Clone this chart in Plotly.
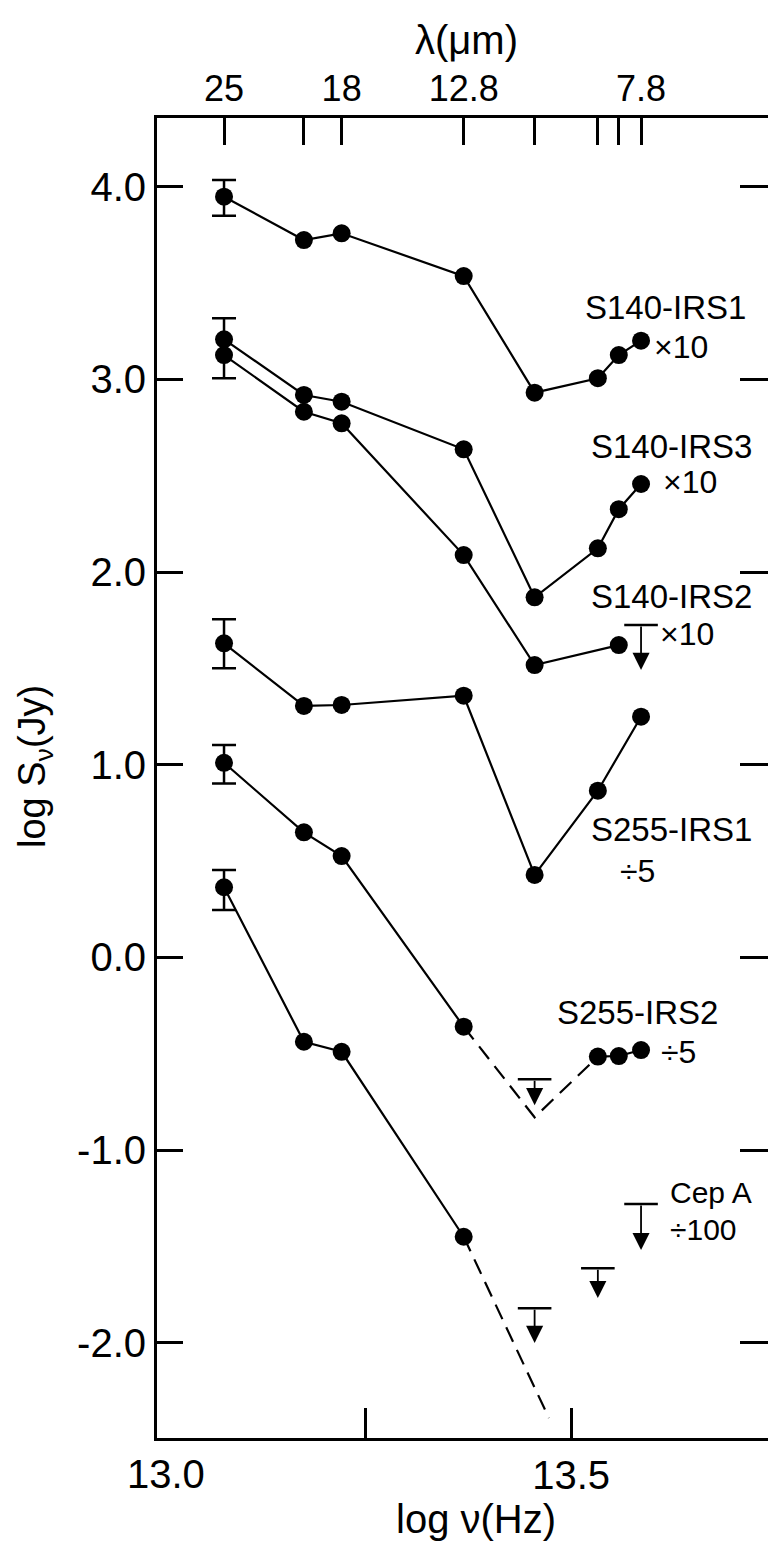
import numpy as np
import plotly.graph_objects as go

# ---------------- data ----------------
C_UM_HZ = 2.998e14  # speed of light in micron*Hz
lam_um = [25, 20, 18, 12.8, 10.5, 8.8, 8.3, 7.8]
top_tick_text = ["25", " ", "18", "12.8", " ", " ", " ", "7.8"]

# log S_nu (Jy) at each filter (None = no detection)
s140_irs1 = [3.948, 3.723, 3.758, 3.536, 2.931, 3.006, 3.126, 3.201]
s140_irs3 = [3.208, 2.919, 2.884, 2.637, 1.869, 2.123, 2.326, 2.457]
s140_irs2 = [3.126, 2.832, 2.772, 2.088, 1.517, None, 1.621, None]
s255_irs1 = [1.630, 1.305, 1.310, 1.358, 0.428, 0.865, None, 1.249]
s255_irs2 = [1.010, 0.649, 0.526, -0.360, None, -0.515, -0.512, -0.481]
cep_a = [0.364, -0.438, -0.490, -1.450, None, None, None, None]

# error bars at 25 um
err_lo = [3.849, 3.006, 1.500, 0.903, 0.246]
err_hi = [4.035, 3.317, 1.755, 1.102, 0.454]

# upper limits
ul_lam = [7.8, 10.5, 10.5, 8.8, 7.8]
ul_cap = [1.725, -0.633, -1.821, -1.614, -1.280]
ul_tip = [1.492, -0.767, -2.001, -1.768, -1.519]

# dashed extrapolations
s255_irs2_dash_lam = [12.8, 10.5, 8.8]
s255_irs2_dash_val = [-0.360, -0.830, -0.515]
cep_a_dash_lognu_end = 13.473   # starts at the 12.8 um point
cep_a_dash_val = [-1.450, -2.391]

y_ticks = [-2, -1, 0, 1, 2, 3, 4]
y_tick_text = ["-2.0", "-1.0", "0.0", "1.0", "2.0", "3.0", "4.0"]
x_ticks = [13.25, 13.5]
x_tick_text = [" ", "13.5"]
x_corner_label = "13.0"

# ---------------- figure ----------------
def lognu(l):
    return float(np.log10(C_UM_HZ / l))

xs = [lognu(l) for l in lam_um]

W, H = 768, 1545
L, R, T, B = 157, 768, 118, 1438
X0 = 12.9976
X1 = X0 + (R - L) / 824.4
Y0, Y1 = -2.4946, 4.3566

def px(x):
    return (x - L) / (R - L)

def py(y):
    return (B - y) / (B - T)

FONT = "Liberation Sans"
BLK = "black"
LW = 2.2

fig = go.Figure()

def add_series(vals, connect):
    fig.add_trace(go.Scatter(
        x=xs, y=vals, mode="lines+markers", connectgaps=connect,
        line=dict(color=BLK, width=LW),
        marker=dict(color=BLK, size=18, symbol="circle"),
        showlegend=False, hoverinfo="skip"))

for vals, con in [(s140_irs1, True), (s140_irs3, True), (s140_irs2, True),
                  (s255_irs1, True), (s255_irs2, False), (cep_a, True)]:
    add_series(vals, con)

# dashed lines
fig.add_trace(go.Scatter(
    x=[lognu(l) for l in s255_irs2_dash_lam], y=s255_irs2_dash_val, mode="lines",
    line=dict(color=BLK, width=LW, dash="16px,9px"), showlegend=False, hoverinfo="skip"))
fig.add_trace(go.Scatter(
    x=[lognu(12.8), cep_a_dash_lognu_end], y=cep_a_dash_val, mode="lines",
    line=dict(color=BLK, width=LW, dash="16px,9px"), showlegend=False, hoverinfo="skip"))

# error bars
mid = [(a + b) / 2 for a, b in zip(err_lo, err_hi)]
half = [(b - a) / 2 for a, b in zip(err_lo, err_hi)]
fig.add_trace(go.Scatter(
    x=[lognu(25)] * len(mid), y=mid, mode="markers",
    marker=dict(size=1, color="rgba(0,0,0,0)"),
    error_y=dict(type="data", array=half, visible=True, color=BLK, thickness=2.5, width=12),
    showlegend=False, hoverinfo="skip"))

# upper limit caps
fig.add_trace(go.Scatter(
    x=[lognu(l) for l in ul_lam], y=ul_cap, mode="markers",
    marker=dict(symbol="line-ew", size=24, color=BLK, line=dict(color=BLK, width=2.5)),
    showlegend=False, hoverinfo="skip"))

annotations = []
for l, c, t in zip(ul_lam, ul_cap, ul_tip):
    annotations.append(dict(
        x=lognu(l), y=t, ax=lognu(l), ay=c, xref="x", yref="y", axref="x", ayref="y",
        text="", showarrow=True, arrowhead=2, arrowsize=1.9, arrowwidth=1.8, arrowcolor=BLK))

# invisible trace for the secondary axes
fig.add_trace(go.Scatter(x=[X0], y=[Y0], xaxis="x2", yaxis="y2", mode="markers",
                         marker=dict(size=1, color="rgba(0,0,0,0)"),
                         showlegend=False, hoverinfo="skip"))

def txt(s, x, y, size, angle=0):
    annotations.append(dict(text=s, x=px(x), y=py(y), xref="paper", yref="paper",
                            showarrow=False, xanchor="center", yanchor="middle",
                            textangle=angle, font=dict(family=FONT, size=size, color=BLK)))

txt("λ(μm)", 466, 40, 40)
txt("S140-IRS1", 665, 307, 33)
txt("×10", 681, 347, 32)
txt("S140-IRS3", 671, 446, 33)
txt("×10", 690, 482, 32)
txt("S140-IRS2", 671, 596, 33)
txt("×10", 687, 634, 32)
txt("S255-IRS1", 671, 830, 33)
txt("÷5", 637, 871, 32)
txt("S255-IRS2", 637, 1012, 33)
txt("÷5", 678, 1052, 32)
txt("Cep A", 711, 1192, 30)
txt("÷100", 703, 1229, 30)
txt(x_corner_label, 166, 1474, 40)
txt("log ν(Hz)", 476, 1519, 40)
txt("log S<sub>ν</sub>(Jy)", 35, 767, 38, -90)

axis_common = dict(showgrid=False, zeroline=False, color=BLK, ticks="inside")

fig.update_layout(
    width=W, height=H, margin=dict(l=L, r=W - R, t=T, b=H - B),
    paper_bgcolor="white", plot_bgcolor="white",
    font=dict(family=FONT, color=BLK),
    xaxis=dict(range=[X0, X1], showline=True, linewidth=3, linecolor=BLK,
               tickvals=x_ticks, ticktext=x_tick_text, ticklen=30, tickwidth=2.5,
               tickangle=0,
               tickcolor=BLK, tickfont=dict(size=40, family=FONT), **axis_common),
    xaxis2=dict(range=[X0, X1], overlaying="x", side="top", anchor="y",
                showline=True, linewidth=3, linecolor=BLK, tickangle=0,
                tickvals=xs, ticktext=top_tick_text, ticklen=27, tickwidth=2.5,
                tickcolor=BLK, tickfont=dict(size=36, family=FONT), **axis_common),
    yaxis=dict(range=[Y0, Y1], showline=True, linewidth=3, linecolor=BLK,
               tickvals=y_ticks, ticktext=y_tick_text, ticklen=26, tickwidth=3,
               tickcolor=BLK, tickfont=dict(size=40, family=FONT), **axis_common),
    yaxis2=dict(range=[Y0, Y1], overlaying="y", side="right", anchor="x",
                showline=False, showticklabels=False,
                tickvals=y_ticks, ticklen=28, tickwidth=3, tickcolor=BLK, **axis_common),
    annotations=annotations,
)

fig.write_html("out.html")
